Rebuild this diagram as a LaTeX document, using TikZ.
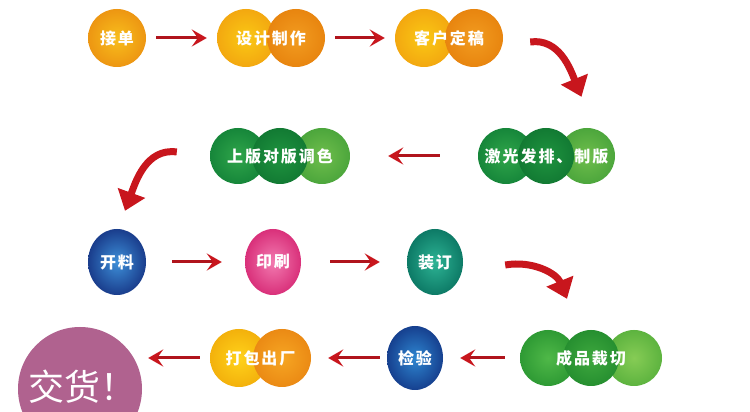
\documentclass[tikz,border=0pt]{standalone}
\usepackage{fontspec}
\newfontfamily\cjk{Noto Sans CJK SC}[LetterSpace=12]
\newfontfamily\cjkbig{Noto Sans CJK SC}
\usetikzlibrary{arrows.meta,positioning,calc}
\definecolor{prred}{HTML}{C8161D}
\definecolor{prdark}{HTML}{B0141C}
\definecolor{prpurple}{HTML}{B0628F}
\tikzset{
  pr/lbl/.style={
    text=white, font=\cjk\bfseries\fontsize{16}{18}\selectfont,
    inner sep=0, minimum height=58pt, align=center
  },
  pr/arr/.style={-{Stealth[length=15pt, width=17pt, inset=6pt, color=prred]}, prdark, line width=3pt},
  pr/bend/.style={-{Triangle[length=19pt, width=28pt]}, prred, line width=7pt}
}

\begin{document}
\begin{tikzpicture}[x=1pt, y=1pt]
  \useasboundingbox (0,0) rectangle (750,412);
  \clip (0,0) rectangle (750,412);
  \fill[white] (0,0) rectangle (750,412);

  % row 1
  \shade[inner color={rgb,255:red,248;green,190;blue,28}, outer color={rgb,255:red,237;green,150;blue,18}]
    (117,374) circle[radius=29];
  \node[pr/lbl, minimum width=58pt] (jd) at (117,374) {接单};
  \foreach \cx/\ci/\co in {246/{rgb,255:red,250;green,200;blue,20}/{rgb,255:red,243;green,168;blue,16},
                           296/{rgb,255:red,242;green,156;blue,32}/{rgb,255:red,232;green,133;blue,15}}
    \shade[inner color=\ci, outer color=\co] (\cx,374) circle[radius=29];
  \node[pr/lbl, minimum width=108pt] (sj) at (271,374) {设计制作};
  \foreach \cx/\ci/\co in {424/{rgb,255:red,250;green,200;blue,20}/{rgb,255:red,243;green,168;blue,16},
                           474/{rgb,255:red,242;green,156;blue,32}/{rgb,255:red,232;green,133;blue,15}}
    \shade[inner color=\ci, outer color=\co] (\cx,374) circle[radius=29];
  \node[pr/lbl, minimum width=108pt] (kh) at (449,374) {客户定稿};

  % row 2
  \foreach \cx/\ci/\co in {506/{rgb,255:red,47;green,165;blue,74}/{rgb,255:red,22;green,134;blue,58},
                           587/{rgb,255:red,111;green,190;blue,76}/{rgb,255:red,76;green,166;blue,60},
                           546/{rgb,255:red,31;green,148;blue,63}/{rgb,255:red,18;green,122;blue,51}}
    \shade[inner color=\ci, outer color=\co] (\cx,256) circle[radius=28];
  \node[pr/lbl, minimum width=137pt] (jg) at (546.5,256) {激光发排、制版};
  \foreach \cx/\ci/\co in {238/{rgb,255:red,47;green,165;blue,74}/{rgb,255:red,22;green,134;blue,58},
                           322/{rgb,255:red,111;green,190;blue,76}/{rgb,255:red,76;green,166;blue,60},
                           280/{rgb,255:red,31;green,148;blue,63}/{rgb,255:red,18;green,122;blue,51}}
    \shade[inner color=\ci, outer color=\co] (\cx,256) circle[radius=28];
  \node[pr/lbl, minimum width=140pt] (sb) at (280,256) {上版对版调色};

  % row 3
  \shade[inner color={rgb,255:red,61;green,143;blue,216}, outer color={rgb,255:red,26;green,61;blue,140}]
    (117,150) ellipse[x radius=29, y radius=33];
  \node[pr/lbl, minimum width=58pt] (kl) at (117,150) {开料};
  \shade[inner color={rgb,255:red,242;green,122;blue,176}, outer color={rgb,255:red,217;green,48;blue,122}]
    (273,150) ellipse[x radius=28, y radius=33];
  \node[pr/lbl, minimum width=56pt] (ys) at (273,150) {印刷};
  \shade[inner color={rgb,255:red,45;green,179;blue,148}, outer color={rgb,255:red,13;green,122;blue,102}]
    (435,150) ellipse[x radius=28, y radius=33];
  \node[pr/lbl, minimum width=56pt] (zd) at (435,150) {装订};

  % row 4
  \foreach \cx/\ci/\co in {548/{rgb,255:red,79;green,184;blue,72}/{rgb,255:red,46;green,154;blue,52},
                           634/{rgb,255:red,134;green,204;blue,85}/{rgb,255:red,93;green,179;blue,63},
                           591/{rgb,255:red,62;green,168;blue,62}/{rgb,255:red,38;green,143;blue,48}}
    \shade[inner color=\ci, outer color=\co] (\cx,54) circle[radius=28];
  \node[pr/lbl, minimum width=142pt] (cp) at (591,54) {成品裁切};
  \shade[inner color={rgb,255:red,46;green,134;blue,208}, outer color={rgb,255:red,22;green,64;blue,143}]
    (415,54) ellipse[x radius=28, y radius=32];
  \node[pr/lbl, minimum width=56pt] (jy) at (415,54) {检验};
  \foreach \cx/\ci/\co in {239/{rgb,255:red,255;green,210;blue,26}/{rgb,255:red,243;green,177;blue,12},
                           282/{rgb,255:red,246;green,166;blue,35}/{rgb,255:red,235;green,138;blue,20}}
    \shade[inner color=\ci, outer color=\co] (\cx,54) circle[radius=29];
  \node[pr/lbl, minimum width=101pt] (db) at (260.5,54) {打包出厂};
  \fill[prpurple] (80,23) circle[radius=62];
  \node[inner sep=0, minimum size=124pt] (jh) at (80,23) {};
  \node[text=white, font=\cjkbig\fontsize{36}{38}\selectfont, inner sep=0] at (82,25) {交货！};

  % straight connectors
  \draw[pr/arr, shorten <=10pt, shorten >=10pt] (jd) -- (sj);
  \draw[pr/arr, shorten <=10pt, shorten >=10pt] (sj) -- (kh);
  \draw[pr/arr, shorten <=38pt, shorten >=38pt] (jg) -- (sb);
  \draw[pr/arr, shorten <=26pt, shorten >=23pt] (kl) -- (ys);
  \draw[pr/arr, shorten <=29pt, shorten >=27pt] (ys) -- (zd);
  \draw[pr/arr, shorten <=15pt, shorten >=17pt] (cp) -- (jy);
  \draw[pr/arr, shorten <=7pt, shorten >=17pt] (jy) -- (db);
  \draw[pr/arr, shorten <=10pt, shorten >=6pt] (db.west) -- (db.west -| jh.east);

  % bent connectors
  \coordinate (b1s) at ($(kh.east)+(27,-4)$);
  \coordinate (b1e) at ($(jg.north)+(35,30)$);
  \draw[pr/bend] (b1s) to[out=8, in=112] (b1e);
  \coordinate (b2s) at ($(sb.west)+(-33,4)$);
  \coordinate (b2e) at ($(kl.north)+(8,22)$);
  \draw[pr/bend] (b2s) to[out=172, in=70] (b2e);
  \coordinate (b3s) at ($(zd.east)+(42,-3)$);
  \coordinate (b3e) at ($(cp.north)+(-24,30)$);
  \draw[pr/bend] (b3s) to[out=10, in=112] (b3e);
\end{tikzpicture}
\end{document}
